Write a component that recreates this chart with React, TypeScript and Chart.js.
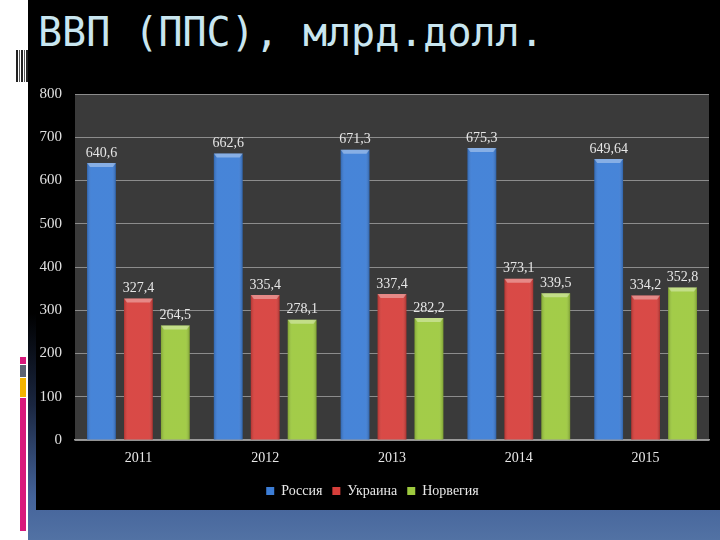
import React, { useEffect, useRef } from "react";
import { Chart, registerables } from "chart.js";

Chart.register(...registerables);

const years = ["2011", "2012", "2013", "2014", "2015"];
const russia = [640.6, 662.6, 671.3, 675.3, 649.64];
const ukraine = [327.4, 335.4, 337.4, 373.1, 334.2];
const norway = [264.5, 278.1, 282.2, 339.5, 352.8];
const russiaLabels = ["640,6", "662,6", "671,3", "675,3", "649,64"];
const ukraineLabels = ["327,4", "335,4", "337,4", "373,1", "334,2"];
const norwayLabels = ["264,5", "278,1", "282,2", "339,5", "352,8"];
const seriesNames = ["Россия", "Украина", "Норвегия"];
const yTicks = [0, 100, 200, 300, 400, 500, 600, 700, 800];

const COLORS = ["#3c7dd6", "#d73f3b", "#9dc93e"];
const SERIF = "'Liberation Serif', 'Times New Roman', serif";

const plotBg = {
  id: "plotBg",
  beforeDraw(chart: any) {
    const { ctx, chartArea } = chart;
    ctx.save();
    ctx.fillStyle = "#000";
    ctx.fillRect(0, 0, chart.width, chart.height);
    ctx.fillStyle = "#3a3a3a";
    ctx.fillRect(chartArea.left, chartArea.top, chartArea.right - chartArea.left, chartArea.bottom - chartArea.top);
    ctx.restore();
  },
};

const labelsPlugin = {
  id: "valueLabels",
  afterDatasetsDraw(chart: any) {
    const { ctx } = chart;
    const all = [russiaLabels, ukraineLabels, norwayLabels];
    ctx.save();
    chart.data.datasets.forEach((ds: any, di: number) => {
      const meta = chart.getDatasetMeta(di);
      meta.data.forEach((bar: any, i: number) => {
        const w = bar.width;
        const left = bar.x - w / 2;
        const g = ctx.createLinearGradient(left, 0, left + w, 0);
        g.addColorStop(0, "rgba(0,0,0,0.18)");
        g.addColorStop(0.15, "rgba(255,255,255,0.06)");
        g.addColorStop(0.85, "rgba(255,255,255,0.06)");
        g.addColorStop(1, "rgba(0,0,0,0.22)");
        ctx.fillStyle = g;
        ctx.fillRect(left, bar.y, w, bar.base - bar.y);
        ctx.fillStyle = "rgba(255,255,255,0.35)";
        ctx.beginPath();
        ctx.moveTo(left, bar.y);
        ctx.lineTo(left + w, bar.y);
        ctx.lineTo(left + w - 3, bar.y + 4);
        ctx.lineTo(left + 3, bar.y + 4);
        ctx.closePath();
        ctx.fill();
        ctx.fillStyle = "#e6e6e6";
        ctx.font = "14px " + SERIF;
        ctx.textAlign = "center";
        ctx.textBaseline = "bottom";
        ctx.fillText(all[di][i], bar.x, bar.y - 3);
      });
    });
    ctx.restore();
  },
};

function ChartView() {
  const ref = useRef<HTMLCanvasElement>(null);
  useEffect(() => {
    if (!ref.current) return;
    const chart = new Chart(ref.current, {
      type: "bar",
      data: {
        labels: years,
        datasets: [russia, ukraine, norway].map((d, i) => ({
          label: seriesNames[i],
          data: d,
          backgroundColor: COLORS[i],
          borderWidth: 0,
          barPercentage: 0.78,
          categoryPercentage: 0.874,
        })),
      },
      options: {
        animation: false,
        responsive: false,
        maintainAspectRatio: false,
        layout: { padding: { top: 5, right: 11, left: 0, bottom: 2 } },
        scales: {
          x: {
            grid: { display: false, drawTicks: false },
            border: { display: true, color: "#9a9a9a", width: 1.5 },
            ticks: { color: "#e8e8e8", font: { family: SERIF, size: 14 }, padding: 10 },
            afterFit(scale: any) {
              scale.height = 34;
            },
          },
          y: {
            min: 0,
            max: 800,
            afterBuildTicks(scale: any) {
              scale.ticks = yTicks.map((v) => ({ value: v }));
            },
            grid: { color: "#8c8c8c", lineWidth: 1, drawTicks: false },
            border: { display: false },
            ticks: { color: "#e0e0e0", font: { family: SERIF, size: 15 }, padding: 13 },
            afterFit(scale: any) {
              scale.width = 39;
            },
          },
        },
        plugins: {
          legend: {
            position: "bottom",
            labels: {
              color: "#e8e8e8",
              font: { family: SERIF, size: 14 },
              boxWidth: 8,
              boxHeight: 8,
              padding: 10,
            },
          },
          tooltip: { enabled: false },
        },
      },
      plugins: [plotBg, labelsPlugin],
    });
    return () => chart.destroy();
  }, []);
  return <canvas ref={ref} width={684} height={438} style={{ display: "block" }} />;
}

export default function App() {
  return (
    <div style={{ position: "absolute", left: 0, top: 0, width: 720, height: 540, overflow: "hidden", background: "#fff" }}>
      <div
        style={{
          position: "absolute",
          left: 28,
          top: 0,
          width: 692,
          height: 540,
          background: "linear-gradient(to bottom, #000 0%, #000 58%, #1a2640 75%, #44639a 92%, #5272a4 100%)",
        }}
      />
      <div
        style={{
          position: "absolute",
          left: 16,
          top: 50,
          width: 12,
          height: 32,
          background: "repeating-linear-gradient(to right, #222 0px, #222 2px, #fff 2px, #fff 3px, #555 3px, #555 4px, #fff 4px, #fff 5px)",
        }}
      />
      <div style={{ position: "absolute", left: 20, top: 357, width: 6, height: 7, background: "#d8197c" }} />
      <div style={{ position: "absolute", left: 20, top: 365, width: 6, height: 12, background: "#5c6272" }} />
      <div style={{ position: "absolute", left: 20, top: 378, width: 6, height: 19, background: "#f4b400" }} />
      <div style={{ position: "absolute", left: 20, top: 398, width: 6, height: 133, background: "#d8197c" }} />
      <div
        style={{
          position: "absolute",
          left: 38,
          top: 8,
          fontFamily: "'DejaVu Sans Mono', monospace",
          fontSize: 40,
          lineHeight: "48px",
          color: "#c9e6f0",
          whiteSpace: "nowrap",
        }}
      >
        ВВП (ППС), млрд.долл.
      </div>
      <div style={{ position: "absolute", left: 36, top: 80, width: 684, height: 430, background: "#000" }} />
      <div style={{ position: "absolute", left: 36, top: 72, width: 684, height: 438 }}>
        <ChartView />
      </div>
    </div>
  );
}
